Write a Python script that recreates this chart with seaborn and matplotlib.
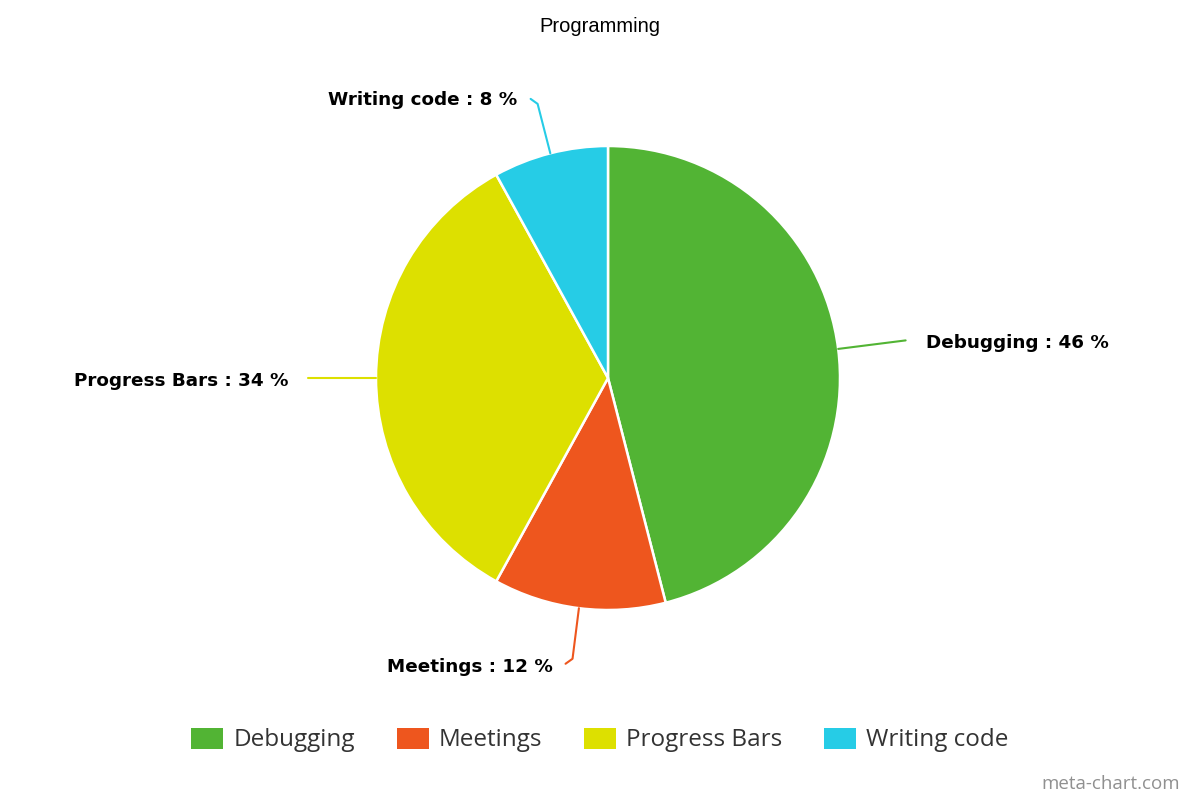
import numpy as np
import matplotlib
matplotlib.use("Agg")
import matplotlib.pyplot as plt
import matplotlib.patches as mpatches
import seaborn as sns

# data
categories = ["Debugging", "Meetings", "Progress Bars", "Writing code"]
shares = [46, 12, 34, 8]
colors = ["#52b434", "#ee561e", "#dde000", "#26cce6"]

sns.set_theme(style="white")
plt.rcParams["font.family"] = ["Liberation Sans", "DejaVu Sans"]
palette = sns.color_palette(colors)

W, H = 1200, 800
fig = plt.figure(figsize=(12, 8), dpi=100)
ax = fig.add_axes([0, 0, 1, 1])

cx, cy, r = 608, H - 378, 232
wedges, _ = ax.pie(shares, colors=palette, startangle=90, counterclock=False,
                   center=(cx, cy), radius=r, frame=True,
                   wedgeprops=dict(edgecolor="white", linewidth=1.8))
ax.set_xlim(0, W)
ax.set_ylim(0, H)
ax.axis("off")

# data labels with connectors
for w, name, val, col in zip(wedges, categories, shares, colors):
    ang = np.deg2rad((w.theta1 + w.theta2) / 2)
    dx, dy = np.cos(ang), np.sin(ang)
    side = 1 if dx > 0.01 else -1
    edge = (cx + r * dx, cy + r * dy)
    if abs(dy) > 0.5:
        # steep connector: go out, then hook towards the label
        knee = (cx + 283 * dx, cy + 283 * dy)
        end = (knee[0] + side * 7, knee[1] + (5 if dy > 0 else -5))
        ax.plot([edge[0], knee[0], end[0]], [edge[1], knee[1], end[1]],
                color=col, lw=1.5, solid_capstyle="round", solid_joinstyle="round")
        tx, ty = end[0] + side * 13, end[1] - (1 if dy > 0 else 3)
    else:
        end = (cx + 300 * dx, cy + 300 * dy)
        ax.plot([edge[0], end[0]], [edge[1], end[1]], color=col, lw=1.5)
        tx, ty = end[0] + side * 20, end[1] - 3
    ax.text(tx, ty, f"{name} : {val} %",
            ha="left" if side > 0 else "right", va="center",
            fontsize=13.2, fontweight="bold", color="black",
            family=["DejaVu Sans"])

# title
fig.text(0.5, 1 - 27 / H, "Programming", ha="center", va="center",
         fontsize=14.5, color="black")

# legend
handles = [mpatches.Patch(facecolor=c, edgecolor="none", label=n)
           for c, n in zip(colors, categories)]
leg = fig.legend(handles=handles, loc="center", bbox_to_anchor=(0.5, 60 / H),
                 ncol=4, frameon=False, handlelength=1.32,
                 handleheight=0.95, handletextpad=0.41, columnspacing=1.72,
                 prop={"family": ["Open Sans", "DejaVu Sans"], "size": 17.5})
for t in leg.get_texts():
    t.set_color("#333333")

fig.text(1180 / W, 1 - 784 / H, "meta-chart.com", ha="right", va="center",
         fontsize=13.5, color="#909090", family=["Open Sans", "DejaVu Sans"])

fig.savefig("out.png", dpi=100)
